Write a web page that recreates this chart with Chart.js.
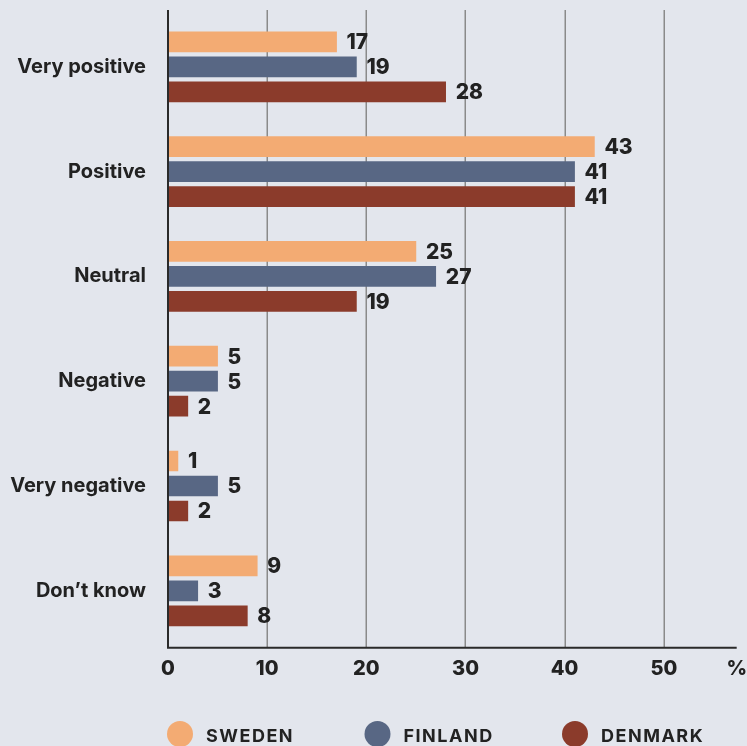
<!DOCTYPE html>
<html>
<head>
<meta charset="utf-8">
<script src="https://cdn.jsdelivr.net/npm/chart.js@4/dist/chart.umd.min.js"></script>
<style>
  html,body{margin:0;padding:0;background:#e3e6ed;overflow:hidden;}
  #wrap{width:747px;height:746px;}
</style>
</head>
<body>
<div id="wrap"><canvas id="chart" width="747" height="746"></canvas></div>
<script>
const categories = ["Very positive", "Positive", "Neutral", "Negative", "Very negative", "Don\u2019t know"];
const sweden  = [17, 43, 25, 5, 1, 9];
const finland = [19, 41, 27, 5, 5, 3];
const denmark = [28, 41, 19, 2, 2, 8];
const seriesNames = ["SWEDEN", "FINLAND", "DENMARK"];
const xTicks = [0, 10, 20, 30, 40, 50];
const unitLabel = "%";
const xMax = 57.35;

const COLORS = ["#f3ab73", "#586784", "#8b3b2b"];
const INK = "#222222";
const FONT = "Inter, 'Noto Sans', sans-serif";

// grid lines behind the bars, axis lines + value labels + legend on top
const decor = {
  id: "decor",
  beforeDatasetsDraw(chart){
    const {ctx, chartArea:a, scales:{x}} = chart;
    ctx.save();
    ctx.strokeStyle = "#8a8a8a";
    ctx.lineWidth = 1.5;
    xTicks.forEach(v => {
      if (v === 0) return;
      const px = Math.round(x.getPixelForValue(v)) + 0.25;
      ctx.beginPath();
      ctx.moveTo(px, a.top - 4.5);
      ctx.lineTo(px, a.bottom + 4.5);
      ctx.stroke();
    });
    ctx.restore();
  },
  afterDatasetsDraw(chart){
    const {ctx, chartArea:a, scales:{x}} = chart;
    ctx.save();
    ctx.strokeStyle = "#2a2a2a";
    ctx.lineWidth = 2;
    const x0 = x.getPixelForValue(0);
    ctx.beginPath();
    ctx.moveTo(x0, a.top - 4.5);
    ctx.lineTo(x0, a.bottom + 4.5);
    ctx.moveTo(x0 - 1, a.bottom + 4.5);
    ctx.lineTo(x.getPixelForValue(xMax), a.bottom + 4.5);
    ctx.stroke();

    // value labels
    ctx.fillStyle = INK;
    ctx.font = "800 21px " + FONT;
    ctx.textBaseline = "middle";
    ctx.textAlign = "left";
    chart.data.datasets.forEach((ds, i) => {
      chart.getDatasetMeta(i).data.forEach((bar, j) => {
        ctx.fillText(String(ds.data[j]), bar.x + 10, bar.y + 1);
      });
    });

    // legend
    ctx.font = "bold 18px " + FONT;
    ctx.letterSpacing = "1.5px";
    chart.data.datasets.forEach((ds, i) => {
      const cx = 180 + i * 197.5, cy = 734;
      ctx.fillStyle = ds.backgroundColor;
      ctx.beginPath();
      ctx.arc(cx, cy, 13, 0, Math.PI * 2);
      ctx.fill();
      ctx.fillStyle = INK;
      ctx.fillText(ds.label, cx + 26, cy + 3);
    });
    ctx.restore();
  }
};

new Chart(document.getElementById("chart"), {
  type: "bar",
  data: {
    labels: categories,
    datasets: [
      {label: seriesNames[0], data: sweden,  backgroundColor: COLORS[0]},
      {label: seriesNames[1], data: finland, backgroundColor: COLORS[1]},
      {label: seriesNames[2], data: denmark, backgroundColor: COLORS[2]}
    ]
  },
  options: {
    indexAxis: "y",
    responsive: false,
    animation: false,
    devicePixelRatio: 1,
    barThickness: 25,
    maxBarThickness: 20,
    layout: {padding: {top: 14.4, right: 10.3, bottom: 0, left: 0}},
    plugins: {legend: {display: false}, tooltip: {enabled: false}},
    scales: {
      x: {
        min: 0, max: xMax,
        grid: {display: false, drawTicks: false},
        border: {display: false},
        afterBuildTicks: s => { s.ticks = xTicks.concat([xMax]).map(v => ({value: v})); },
        afterFit: s => { s.height = 746 - 643.2; s.paddingLeft = 0; s.paddingRight = 0; },
        ticks: {
          color: INK, padding: 14,
          font: {family: FONT, size: 20, weight: "800"},
          maxRotation: 0,
          callback: v => v === xMax ? unitLabel : v
        }
      },
      y: {
        grid: {display: false, drawTicks: false},
        border: {display: false},
        afterFit: s => { s.width = 168; s.paddingTop = 0; s.paddingBottom = 0; },
        ticks: {
          color: INK, padding: 22,
          font: {family: FONT, size: 20, weight: "bold"}
        }
      }
    }
  },
  plugins: [decor]
});
</script>
</body>
</html>
